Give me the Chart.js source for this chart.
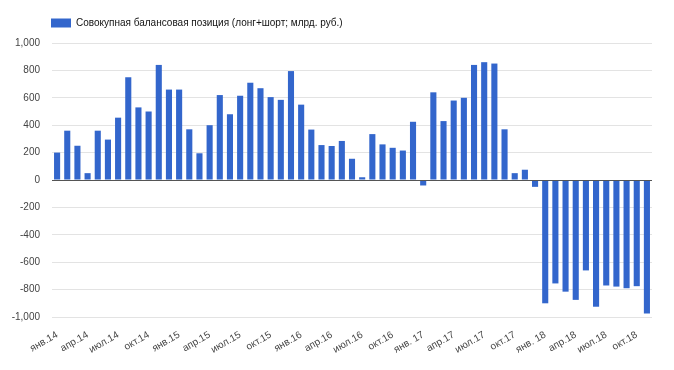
<!DOCTYPE html>
<html>
<head>
<meta charset="utf-8">
<script src="https://cdn.jsdelivr.net/npm/chart.js@4.4.1/dist/chart.umd.min.js"></script>
<style>
  html, body { margin: 0; padding: 0; background: #fff; }
  #wrap { width: 674px; height: 370px; }
</style>
</head>
<body>
<div id="wrap"><canvas id="chart" width="674" height="370"></canvas></div>
<script>
// months Jan 2014 .. Nov 2018
const months = [
  'янв.14', 'фев.14', 'мар.14', 'апр.14', 'май.14', 'июн.14', 'июл.14', 'авг.14', 'сен.14', 'окт.14', 'ноя.14', 'дек.14',
  'янв.15', 'фев.15', 'мар.15', 'апр.15', 'май.15', 'июн.15', 'июл.15', 'авг.15', 'сен.15', 'окт.15', 'ноя.15', 'дек.15',
  'янв.16', 'фев.16', 'мар.16', 'апр.16', 'май.16', 'июн.16', 'июл.16', 'авг.16', 'сен.16', 'окт.16', 'ноя.16', 'дек.16',
  'янв. 17', 'фев.17', 'мар.17', 'апр.17', 'май.17', 'июн.17', 'июл.17', 'авг.17', 'сен.17', 'окт.17', 'ноя.17', 'дек.17',
  'янв. 18', 'фев.18', 'мар.18', 'апр.18', 'май.18', 'июн.18', 'июл.18', 'авг.18', 'сен.18', 'окт.18', 'ноя.18'
];

// net balance position, bn RUB
const position = [
  200, 360, 250, 50, 360, 295, 455, 750, 530, 500, 840, 660,
  660, 370, 195, 400, 620, 480, 615, 710, 670, 605, 585, 795,
  550, 368, 255, 248, 285, 155, 20, 335, 260, 235, 215, 425,
  -40, 640, 430, 580, 600, 840, 860, 850, 370, 50, 75, -50,
  -900, -755, -815, -875, -660, -925, -770, -778, -790, -775, -975
];

const yTicks = [-1000, -800, -600, -400, -200, 0, 200, 400, 600, 800, 1000];
const seriesName = 'Совокупная балансовая позиция (лонг+шорт; млрд. руб.)';

const FONT = 'Arial, "Liberation Sans", sans-serif';

// zero baseline drawn over the bars
const baseline = {
  id: 'baseline',
  afterDatasetsDraw(chart) {
    const { ctx, chartArea, scales } = chart;
    const y = Math.round(scales.y.getPixelForValue(0)) + 0.5;
    ctx.save();
    ctx.strokeStyle = '#555';
    ctx.lineWidth = 1.2;
    ctx.beginPath();
    ctx.moveTo(chartArea.left, y);
    ctx.lineTo(chartArea.right, y);
    ctx.stroke();
    ctx.restore();
  }
};

// nudge the legend so it lines up with the plot's left edge
const legendShift = {
  id: 'legendShift',
  afterLayout(chart) {
    const lg = chart.legend;
    if (!lg) return;
    lg.left += 41; lg.right += 41;
    lg.top -= 5; lg.bottom -= 5;
  }
};

new Chart(document.getElementById('chart'), {
  type: 'bar',
  data: {
    labels: months,
    datasets: [{
      label: seriesName,
      data: position,
      backgroundColor: '#3366cc',
      borderWidth: 0,
      categoryPercentage: 1,
      barPercentage: 0.6
    }]
  },
  options: {
    responsive: false,
    animation: false,
    layout: { padding: { left: 0, right: 22, top: 13, bottom: 0 } },
    plugins: {
      legend: {
        display: true,
        position: 'top',
        align: 'start',
        labels: {
          boxWidth: 20,
          boxHeight: 9,
          padding: 10,
          color: '#111',
          font: { family: FONT, size: 10 }
        }
      },
      tooltip: { enabled: false }
    },
    scales: {
      x: {
        grid: { display: false },
        border: { display: false },
        ticks: {
          autoSkip: false,
          minRotation: 30,
          maxRotation: 30,
          padding: 4,
          color: '#444',
          font: { family: FONT, size: 10 },
          callback: (v, i) => (i % 3 === 0 ? months[i] : '')
        },
        afterFit: (scale) => { scale.height = 53; }
      },
      y: {
        min: -1000,
        max: 1000,
        border: { display: false },
        grid: { color: '#e3e3e3', lineWidth: 1, drawTicks: false },
        afterBuildTicks: (scale) => { scale.ticks = yTicks.map(v => ({ value: v })); },
        ticks: {
          padding: 12,
          color: '#444',
          font: { family: FONT, size: 10 },
          callback: (v) => v.toLocaleString('en-US')
        },
        afterFit: (scale) => { scale.width = 52; }
      }
    }
  },
  plugins: [baseline, legendShift]
});
</script>
</body>
</html>
